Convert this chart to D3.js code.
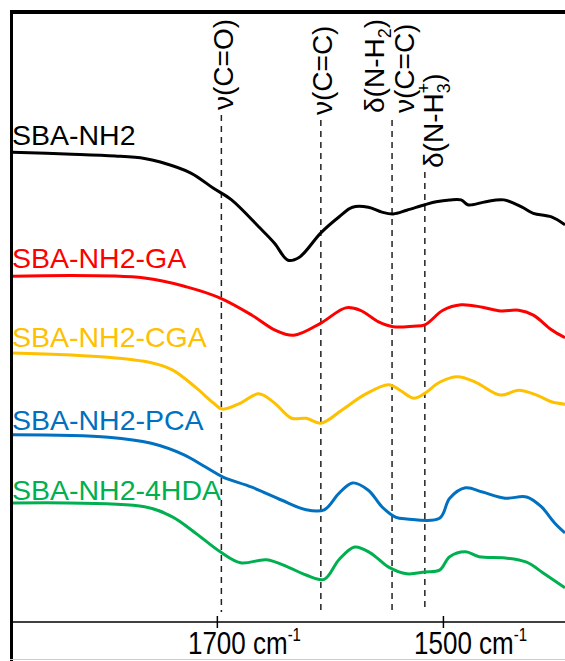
<!DOCTYPE html>
<html>
<head>
<meta charset="utf-8">
<script src="https://cdn.jsdelivr.net/npm/d3@7"></script>
<style>
  body { margin: 0; background: white; }
  text { font-family: "Liberation Sans", Arial, sans-serif; }
</style>
</head>
<body>
<div id="chart"></div>
<script>
let width = 565, height = 661;

// spectra: wavenumber (cm-1) and intensity (a.u., offset stacked)
let seriesNames = ['SBA-NH2', 'SBA-NH2-GA', 'SBA-NH2-CGA', 'SBA-NH2-PCA', 'SBA-NH2-4HDA'];
let seriesColors = ['#000000', '#FF0000', '#FFC000', '#0070C0', '#00B050'];

let waveNH2 = [1881, 1828, 1790, 1764, 1750, 1723, 1703, 1687, 1663, 1649, 1637, 1627, 1608, 1592, 1580, 1566, 1554, 1544, 1532, 1516, 1506, 1494, 1484, 1478, 1474, 1462, 1446, 1430, 1420, 1404, 1392];
let valNH2 = [77.0, 76.7, 76.4, 76.0, 75.4, 73.6, 71.1, 69.2, 64.8, 62.1, 59.3, 59.8, 63.8, 66.4, 68.0, 68.0, 67.2, 66.9, 67.5, 68.4, 68.9, 69.2, 69.2, 68.4, 68.4, 68.9, 69.2, 68.0, 67.0, 66.4, 65.1];

let waveGA = [1881, 1764, 1726, 1697, 1669, 1649, 1632, 1608, 1586, 1573, 1557, 1544, 1526, 1516, 1500, 1484, 1465, 1449, 1433, 1420, 1404, 1392];
let valGA = [56.7, 56.4, 54.9, 53.1, 50.3, 47.9, 47.0, 49.0, 51.5, 51.1, 49.2, 48.4, 48.5, 48.7, 51.1, 52.0, 51.6, 51.0, 51.1, 50.3, 47.9, 46.6];

let waveCGA = [1881, 1796, 1758, 1739, 1719, 1703, 1695, 1679, 1663, 1649, 1634, 1621, 1608, 1589, 1570, 1548, 1538, 1526, 1516, 1503, 1487, 1471, 1449, 1433, 1417, 1404, 1392];
let valCGA = [44.1, 43.4, 42.5, 41.3, 38.5, 35.9, 34.9, 35.9, 37.4, 35.9, 33.4, 33.4, 32.6, 34.8, 37.2, 38.9, 38.0, 36.7, 37.5, 39.3, 40.2, 39.3, 37.2, 38.0, 37.2, 36.1, 35.7];

let wavePCA = [1881, 1796, 1758, 1729, 1710, 1695, 1669, 1643, 1621, 1605, 1592, 1580, 1566, 1554, 1542, 1532, 1503, 1494, 1480, 1465, 1445, 1426, 1413, 1401, 1392];
let valPCA = [30.7, 30.3, 29.3, 27.4, 25.4, 23.8, 22.1, 20.0, 18.4, 18.4, 21.1, 22.8, 21.6, 18.9, 17.2, 16.9, 17.0, 20.3, 22.0, 21.3, 20.3, 20.5, 18.9, 16.2, 14.6];

let wave4HDA = [1881, 1764, 1739, 1719, 1697, 1679, 1656, 1637, 1621, 1605, 1592, 1578, 1564, 1548, 1532, 1516, 1503, 1494, 1480, 1468, 1445, 1426, 1411, 1392];
let val4HDA = [19.5, 18.9, 17.2, 14.6, 11.5, 9.7, 10.2, 9.0, 7.7, 7.0, 10.2, 12.3, 11.3, 9.0, 7.9, 8.2, 8.5, 10.7, 11.5, 10.7, 10.5, 9.8, 8.0, 5.6];

// band assignments (dashed markers)
let bandWaves = [1696, 1608, 1545, 1516];

// x ticks
let tickValues = [1700, 1500];

let margin = { top: 12, bottom: 39, left: 10, right: 0 };

let svg = d3.select('#chart')
  .append('svg')
  .attr('width', width)
  .attr('height', height)
  .style('background', 'white')
  .style('display', 'block');

let xscale = d3.scaleLinear()
  .domain([1883, 1392])
  .range([margin.left, width - margin.right]);

let yscale = d3.scaleLinear()
  .domain([0, 100])
  .range([height - margin.bottom, margin.top]);

let axisY = height - margin.bottom;

// dashed band lines
let dashTop = [115, 120, 120, 172];
svg.selectAll('.band')
  .data(bandWaves)
  .enter()
  .append('line')
  .attr('x1', d => xscale(d))
  .attr('x2', d => xscale(d))
  .attr('y1', (d, i) => dashTop[i])
  .attr('y2', axisY - 10)
  .attr('stroke', '#222')
  .attr('stroke-width', 1.5)
  .attr('stroke-dasharray', '6,5');

// spectra
let allSeries = [
  { w: waveNH2, v: valNH2 },
  { w: waveGA, v: valGA },
  { w: waveCGA, v: valCGA },
  { w: wavePCA, v: valPCA },
  { w: wave4HDA, v: val4HDA }
];

let line = d3.line()
  .x(d => xscale(d[0]))
  .y(d => yscale(d[1]))
  .curve(d3.curveCatmullRom.alpha(0.5));

allSeries.forEach((s, i) => {
  let pts = s.w.map((w, j) => [w, s.v[j]]);
  svg.append('path')
    .attr('d', line(pts))
    .attr('fill', 'none')
    .attr('stroke', seriesColors[i])
    .attr('stroke-width', 3)
    .attr('stroke-linejoin', 'round');
});

// series labels
let labelY = [145, 268, 347, 430, 500];
svg.selectAll('.slabel')
  .data(seriesNames)
  .enter()
  .append('text')
  .text(d => d)
  .attr('x', 12)
  .attr('y', (d, i) => labelY[i])
  .attr('fill', (d, i) => seriesColors[i])
  .style('font-size', '28.5px');

// band annotations (rotated)
function annot(wave, dx, y0, build) {
  let t = svg.append('text')
    .attr('transform', `translate(${xscale(wave) + dx}, ${y0}) rotate(-90)`)
    .style('font-size', '28px')
    .attr('fill', '#000');
  build(t);
}

annot(bandWaves[0], 12, 110, t => t.text('ν(C=O)'));
annot(bandWaves[1], 11, 115, t => t.text('ν(C=C)'));
annot(bandWaves[2], -8, 113, t => {
  t.append('tspan').text('δ(N-H');
  t.append('tspan').text('2').attr('dy', 7).style('font-size', '18px');
  t.append('tspan').text(')').attr('dy', -7);
});
annot(bandWaves[2], 22, 113, t => t.text('ν(C=C)'));
annot(bandWaves[3], 18, 168, t => {
  t.append('tspan').text('δ(N-H');
  t.append('tspan').text('3').attr('dy', 7).style('font-size', '18px');
  t.append('tspan').text('+').attr('dx', -10).attr('dy', -20).style('font-size', '18px');
  t.append('tspan').text(')').attr('dy', 13);
});

// frame
svg.append('line')
  .attr('x1', margin.left + 1.5).attr('x2', margin.left + 1.5)
  .attr('y1', margin.top - 2).attr('y2', height)
  .attr('stroke', '#000').attr('stroke-width', 3);

svg.append('line')
  .attr('x1', margin.left).attr('x2', width)
  .attr('y1', margin.top).attr('y2', margin.top)
  .attr('stroke', '#000').attr('stroke-width', 4);

// bottom axis
let xAxis = svg.append('g')
  .attr('transform', `translate(0, ${axisY})`)
  .call(d3.axisBottom(xscale).tickValues(tickValues).tickSize(6).tickSizeOuter(0).tickFormat(''));
xAxis.select('.domain').attr('stroke', '#000').attr('stroke-width', 1.5).attr('d', `M${margin.left},0H${width}`);
xAxis.selectAll('.tick line').attr('y1', -6).attr('y2', 6).attr('stroke-width', 1.5);

tickValues.forEach(v => {
  let g = svg.append('g')
    .attr('transform', `translate(${xscale(v)}, ${height - 7}) scale(1, 1.2)`);
  let t = g.append('text').style('font-size', '26px').attr('fill', '#000');
  let num = t.append('tspan').text(String(v));
  t.append('tspan').text(' cm');
  t.append('tspan').text('-1').attr('dy', -11).style('font-size', '15px');
  let w = num.node().getComputedTextLength();
  t.attr('x', -w / 2);
});

// faint bottom edge
svg.append('line')
  .attr('x1', margin.left).attr('x2', width)
  .attr('y1', height - 1.5).attr('y2', height - 1.5)
  .attr('stroke', '#ccc').attr('stroke-width', 1);
</script>
</body>
</html>
